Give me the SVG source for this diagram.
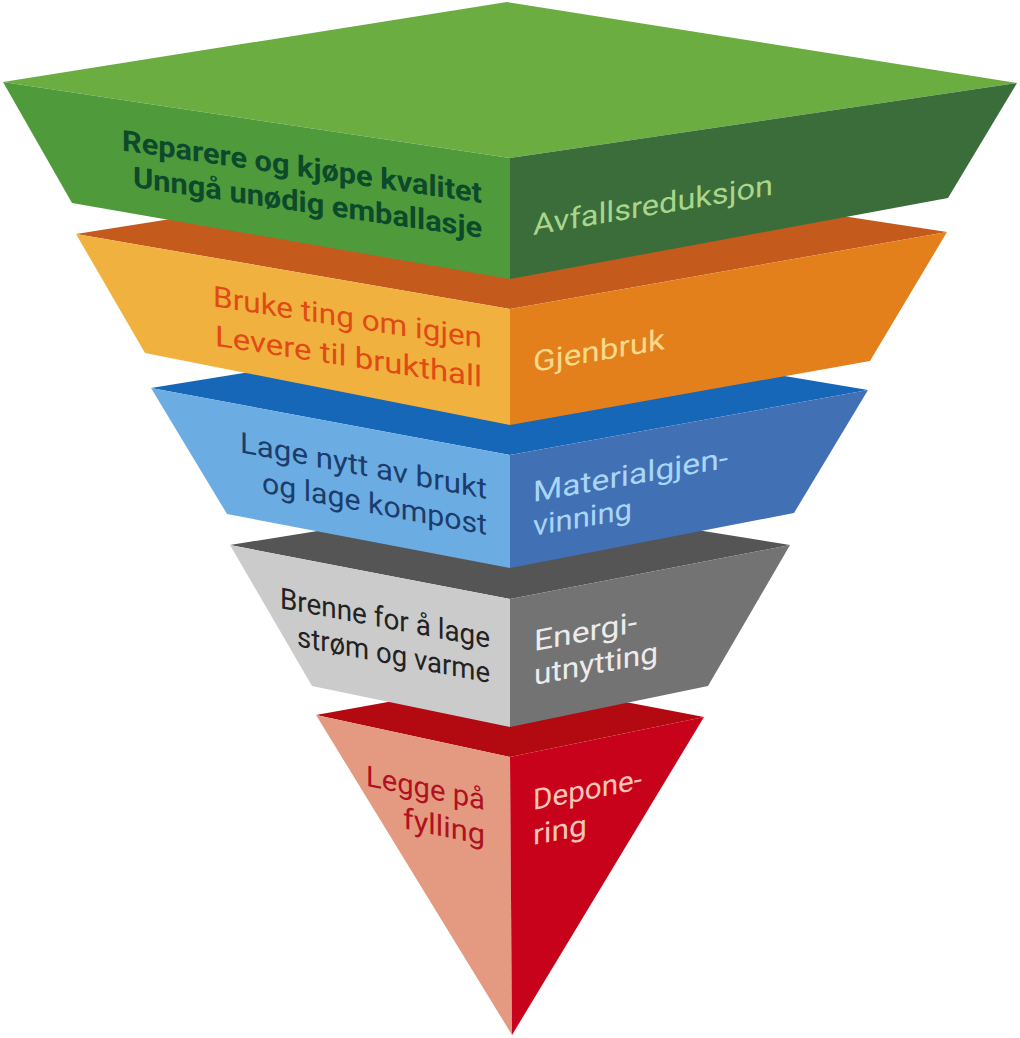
<svg xmlns="http://www.w3.org/2000/svg" width="1020" height="1038" viewBox="0 0 1020 1038">
<style>
  text { font-family: Roboto, "DejaVu Sans", sans-serif; font-size: 29px; }
  .l { text-anchor: end; }
  .r { text-anchor: start; }
  .g-top { fill: #6cad42; } .g-left { fill: #4f9b3c; } .g-right { fill: #3a6d3a; }
  .o-top { fill: #c55a1d; } .o-left { fill: #f1b13f; } .o-right { fill: #e3801b; }
  .b-top { fill: #1667b8; } .b-left { fill: #6badE3; } .b-right { fill: #4270b5; }
  .y-top { fill: #555555; } .y-left { fill: #cbcbcb; } .y-right { fill: #737373; }
  .d-top { fill: #b30a12; } .d-left { fill: #e39a80; } .d-right { fill: #c9021b; }
</style>
<rect width="1020" height="1038" fill="#ffffff"/>

<g id="deponering">
  <polygon class="d-top" points="316,715 510,680 704,717 510,757"/>
  <polygon class="d-left" points="316,715 510,757 512,1035"/>
  <polygon class="d-right" points="510,757 704,717 512,1035"/>
  <g transform="translate(485,810) skewY(11.5)" fill="#b01020">
    <text class="l" x="0" y="0" textLength="119" lengthAdjust="spacingAndGlyphs">Legge på</text>
    <text class="l" x="0" y="35" textLength="82" lengthAdjust="spacingAndGlyphs">fylling</text>
  </g>
  <g transform="translate(533,810) skewY(-11)" fill="#f7c6b9">
    <text class="r" x="0" y="0" textLength="109" lengthAdjust="spacingAndGlyphs">Depone-</text>
    <text class="r" x="0" y="35" textLength="54" lengthAdjust="spacingAndGlyphs">ring</text>
  </g>
</g>

<g id="energiutnytting">
  <polygon class="y-top" points="230,545 510,500 790,545 510,599"/>
  <polygon class="y-left" points="230,545 510,599 510,727 312,686"/>
  <polygon class="y-right" points="510,599 790,545 708,686 510,727"/>
  <g transform="translate(490,648) skewY(10.8)" fill="#222222">
    <text class="l" x="0" y="0" textLength="210" lengthAdjust="spacingAndGlyphs">Brenne for å lage</text>
    <text class="l" x="0" y="35" textLength="193" lengthAdjust="spacingAndGlyphs">strøm og varme</text>
  </g>
  <g transform="translate(534,651) skewY(-10.5)" fill="#ececec">
    <text class="r" x="0" y="0" textLength="103" lengthAdjust="spacingAndGlyphs">Energi-</text>
    <text class="r" x="0" y="34" textLength="124" lengthAdjust="spacingAndGlyphs">utnytting</text>
  </g>
</g>

<g id="materialgjenvinning">
  <polygon class="b-top" points="151,388 510,330 868,390 510,455"/>
  <polygon class="b-left" points="151,388 510,455 510,568 227,514"/>
  <polygon class="b-right" points="510,455 868,390 794,513 510,568"/>
  <g transform="translate(487,499) skewY(10.7)" fill="#1c3c6c">
    <text class="l" x="0" y="0" textLength="247" lengthAdjust="spacingAndGlyphs">Lage nytt av brukt</text>
    <text class="l" x="0" y="36" textLength="225" lengthAdjust="spacingAndGlyphs">og lage kompost</text>
  </g>
  <g transform="translate(533,502) skewY(-10)" fill="#a9d6f6">
    <text class="r" x="0" y="0" textLength="195" lengthAdjust="spacingAndGlyphs">Materialgjen-</text>
    <text class="r" x="0" y="34" textLength="99" lengthAdjust="spacingAndGlyphs">vinning</text>
  </g>
</g>

<g id="gjenbruk">
  <polygon class="o-top" points="76,234 510,165 947,232 510,309"/>
  <polygon class="o-left" points="76,234 510,309 510,425 145,353"/>
  <polygon class="o-right" points="510,309 947,232 870,361 510,425"/>
  <g transform="translate(482,348) skewY(8.8)" fill="#e04a14">
    <text class="l" x="0" y="0" textLength="269" lengthAdjust="spacingAndGlyphs">Bruke ting om igjen</text>
    <text class="l" x="0" y="39" textLength="267" lengthAdjust="spacingAndGlyphs">Levere til brukthall</text>
  </g>
  <g transform="translate(533,372) skewY(-9.8)" fill="#f7d98a">
    <text class="r" x="0" y="0" textLength="132" lengthAdjust="spacingAndGlyphs">Gjenbruk</text>
  </g>
</g>

<g id="avfallsreduksjon">
  <polygon class="g-top" points="3,82 507,2 1017,83 510,158"/>
  <polygon class="g-left" points="3,82 510,158 510,279 72,203"/>
  <polygon class="g-right" points="510,158 1017,83 948,198 510,279"/>
  <g transform="translate(482,203) skewY(8.3)" fill="#0d4a2b" font-weight="700">
    <text class="l" x="0" y="0" textLength="360" lengthAdjust="spacingAndGlyphs">Reparere og kjøpe kvalitet</text>
    <text class="l" x="0" y="35" textLength="349" lengthAdjust="spacingAndGlyphs">Unngå unødig emballasje</text>
  </g>
  <g transform="translate(533,235) skewY(-9.5)" fill="#a9d68a">
    <text class="r" x="0" y="0" textLength="240" lengthAdjust="spacingAndGlyphs">Avfallsreduksjon</text>
  </g>
</g>
</svg>
